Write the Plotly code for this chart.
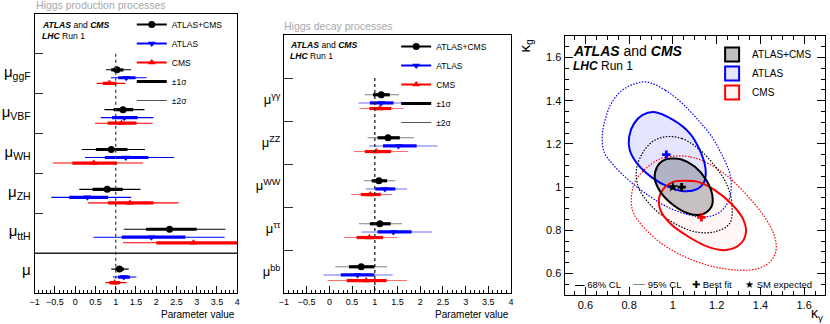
import plotly.graph_objects as go

# ---------------- data: production processes (value, lo1, hi1, lo2, hi2) ----------------
PROD_LABELS = ["μ<sub>ggF</sub>", "μ<sub>VBF</sub>", "μ<sub>WH</sub>",
               "μ<sub>ZH</sub>", "μ<sub>ttH</sub>", "μ"]
PROD_COMB = [
    (1.03, 0.89, 1.19, 0.76, 1.38),
    (1.18, 0.95, 1.43, 0.72, 1.71),
    (0.89, 0.51, 1.29, 0.16, 1.72),
    (0.79, 0.43, 1.17, 0.10, 1.61),
    (2.33, 1.75, 3.00, 1.20, 3.71),
    (1.09, 0.99, 1.20, 0.89, 1.32),
]
PROD_ATLAS = [
    (1.26, 1.06, 1.49, 0.88, 1.76),
    (1.21, 0.91, 1.54, 0.63, 1.93),
    (1.25, 0.73, 1.81, 0.24, 2.44),
    (0.30, -0.15, 0.81, -0.59, 1.38),
    (1.88, 1.15, 2.72, 0.45, 3.69),
    (1.20, 1.06, 1.35, 0.93, 1.51),
]
PROD_CMS = [
    (0.84, 0.68, 1.02, 0.53, 1.24),
    (1.14, 0.80, 1.51, 0.49, 1.91),
    (0.46, -0.07, 1.03, -0.55, 1.67),
    (1.35, 0.81, 1.93, 0.32, 2.55),
    (2.92, 2.00, 4.00, 1.18, 4.60),
    (0.97, 0.84, 1.11, 0.74, 1.27),
]

# ---------------- data: decay processes ----------------
DEC_LABELS = ["μ<sup>γγ</sup>", "μ<sup>ZZ</sup>", "μ<sup>WW</sup>",
              "μ<sup>ττ</sup>", "μ<sup>bb</sup>"]
DEC_COMB = [
    (1.14, 0.96, 1.33, 0.78, 1.53),
    (1.29, 1.06, 1.55, 0.84, 1.86),
    (1.09, 0.93, 1.27, 0.76, 1.45),
    (1.11, 0.89, 1.35, 0.65, 1.60),
    (0.70, 0.43, 0.99, 0.13, 1.27),
]
DEC_ATLAS = [
    (1.14, 0.89, 1.41, 0.64, 1.71),
    (1.52, 1.18, 1.92, 0.87, 2.38),
    (1.22, 1.01, 1.45, 0.80, 1.71),
    (1.41, 1.06, 1.81, 0.71, 2.26),
    (0.62, 0.25, 0.99, -0.13, 1.39),
]
DEC_CMS = [
    (1.11, 0.88, 1.36, 0.66, 1.63),
    (1.03, 0.78, 1.36, 0.54, 1.73),
    (0.90, 0.69, 1.13, 0.48, 1.38),
    (0.88, 0.60, 1.18, 0.32, 1.49),
    (0.81, 0.38, 1.26, -0.04, 1.71),
]
SM_VALUE = 1.0

# ---------------- data: kappa_gamma vs kappa_g contours ----------------
COMB68_X = [0.988, 1.040, 1.101, 1.153, 1.180, 1.176, 1.131, 1.071, 1.003, 0.943, 0.917, 0.928, 0.953, 0.988]
COMB68_Y = [1.132, 1.128, 1.094, 1.032, 0.963, 0.909, 0.873, 0.878, 0.916, 0.978, 1.040, 1.094, 1.121, 1.132]
COMB95_X = [0.965, 1.041, 1.116, 1.183, 1.244, 1.270, 1.259, 1.191, 1.101, 0.995, 0.905, 0.845, 0.833, 0.860, 0.905, 0.965]
COMB95_Y = [1.233, 1.225, 1.179, 1.109, 1.017, 0.920, 0.831, 0.793, 0.793, 0.839, 0.909, 0.993, 1.078, 1.155, 1.209, 1.233]
ATLAS68_X = [0.913, 1.003, 1.078, 1.123, 1.149, 1.143, 1.108, 1.048, 0.980, 0.905, 0.837, 0.803, 0.800, 0.822, 0.860, 0.913]
ATLAS68_Y = [1.348, 1.310, 1.248, 1.171, 1.086, 1.024, 0.989, 0.981, 1.001, 1.044, 1.109, 1.171, 1.233, 1.294, 1.333, 1.348]
ATLAS95_X = [0.883, 0.965, 1.040, 1.116, 1.180, 1.221, 1.255, 1.266, 1.262, 1.240, 1.200, 1.140, 1.060, 0.970,
             0.890, 0.800, 0.730, 0.687, 0.677, 0.690, 0.720, 0.770, 0.830, 0.883]
ATLAS95_Y = [1.487, 1.449, 1.390, 1.310, 1.230, 1.155, 1.080, 1.032, 0.960, 0.910, 0.875, 0.862, 0.875, 0.910,
             0.960, 1.030, 1.100, 1.160, 1.233, 1.310, 1.390, 1.450, 1.480, 1.487]
CMS68_X = [1.048, 1.116, 1.191, 1.266, 1.319, 1.334, 1.311, 1.244, 1.161, 1.071, 0.988, 0.943, 0.938, 0.965, 1.003, 1.048]
CMS68_Y = [1.029, 1.024, 0.986, 0.924, 0.855, 0.793, 0.739, 0.708, 0.723, 0.770, 0.831, 0.893, 0.955, 1.001, 1.024, 1.029]
CMS95_X = [1.000, 1.080, 1.160, 1.250, 1.340, 1.420, 1.465, 1.470, 1.440, 1.380, 1.300, 1.190, 1.070, 0.960,
           0.870, 0.820, 0.810, 0.830, 0.880, 0.940, 1.000]
CMS95_Y = [1.143, 1.140, 1.110, 1.050, 0.960, 0.860, 0.770, 0.700, 0.650, 0.620, 0.615, 0.630, 0.670, 0.730,
           0.810, 0.880, 0.950, 1.030, 1.090, 1.130, 1.143]
BEST_COMB = (1.04, 1.00)
BEST_ATLAS = (0.97, 1.15)
BEST_CMS = (1.13, 0.86)
SM_POINT = (1.0, 1.0)

FONT = "Liberation Sans, Arial, Helvetica, sans-serif"
BLUE = "#0000ff"
RED = "#ff0000"
DOTS = "1.5px,1.5px"

fig = go.Figure()


def add_forest(rows, offset, color, thin_color, symbol, xa, ya):
    ys = [i + 1 + offset for i in range(len(rows))]
    x1, y1, x2, y2 = [], [], [], []
    for (v, lo1, hi1, lo2, hi2), y in zip(rows, ys):
        x2 += [lo2, hi2, None]
        y2 += [y, y, None]
        x1 += [lo1, hi1, None]
        y1 += [y, y, None]
    fig.add_trace(go.Scatter(x=x2, y=y2, mode="lines", line=dict(color=thin_color, width=1.1),
                             xaxis=xa, yaxis=ya, showlegend=False, hoverinfo="skip"))
    fig.add_trace(go.Scatter(x=x1, y=y1, mode="lines", line=dict(color=color, width=3.2),
                             xaxis=xa, yaxis=ya, showlegend=False, hoverinfo="skip"))
    fig.add_trace(go.Scatter(x=[r[0] for r in rows], y=ys, mode="markers",
                             marker=dict(color=color, symbol=symbol, size=7),
                             xaxis=xa, yaxis=ya, showlegend=False))


def add_forest_legend(legend):
    items = [("ATLAS+CMS", "black", "circle"), ("ATLAS", BLUE, "triangle-down"),
             ("CMS", RED, "triangle-up")]
    for name, c, sym in items:
        fig.add_trace(go.Scatter(x=[None], y=[None], mode="lines+markers", name=name,
                                 line=dict(color=c, width=2), marker=dict(color=c, symbol=sym, size=7),
                                 legend=legend))
    fig.add_trace(go.Scatter(x=[None], y=[None], mode="lines", name="±1σ",
                             line=dict(color="black", width=3), legend=legend))
    fig.add_trace(go.Scatter(x=[None], y=[None], mode="lines", name="±2σ",
                             line=dict(color="#555", width=1), legend=legend))


# left panel: production
add_forest(PROD_COMB, 0.40, "black", "black", "circle", "x", "y")
add_forest(PROD_ATLAS, 0.60, BLUE, BLUE, "triangle-down", "x", "y")
add_forest(PROD_CMS, 0.74, RED, RED, "triangle-up", "x", "y")
fig.add_trace(go.Scatter(x=[SM_VALUE, SM_VALUE], y=[1, 7], mode="lines",
                         line=dict(color="#444", width=1.3, dash="dot"),
                         xaxis="x", yaxis="y", showlegend=False, hoverinfo="skip"))
add_forest_legend("legend")

# middle panel: decay
add_forest(DEC_COMB, 0.39, "black", "#808080", "circle", "x2", "y2")
add_forest(DEC_ATLAS, 0.58, BLUE, "#6f6fff", "triangle-down", "x2", "y2")
add_forest(DEC_CMS, 0.71, RED, "#ff6f6f", "triangle-up", "x2", "y2")
fig.add_trace(go.Scatter(x=[SM_VALUE, SM_VALUE], y=[1, 6], mode="lines",
                         line=dict(color="#222", width=1.3, dash="dot"),
                         xaxis="x2", yaxis="y2", showlegend=False, hoverinfo="skip"))
add_forest_legend("legend2")

# right panel: contours - fills first, then outlines
for xs, ys, fc in [(CMS68_X, CMS68_Y, "rgba(255,0,0,0.035)"),
                   (ATLAS68_X, ATLAS68_Y, "rgba(0,0,255,0.10)"),
                   (COMB68_X, COMB68_Y, "rgba(0,0,0,0.22)")]:
    fig.add_trace(go.Scatter(x=xs, y=ys, mode="lines", fill="toself", fillcolor=fc,
                             line=dict(width=0, shape="spline", smoothing=1.0),
                             xaxis="x3", yaxis="y3", showlegend=False, hoverinfo="skip"))
for xs, ys, c, dash, w in [(ATLAS95_X, ATLAS95_Y, BLUE, DOTS, 1.2),
                           (CMS95_X, CMS95_Y, RED, DOTS, 1.2),
                           (COMB95_X, COMB95_Y, "black", DOTS, 1.2),
                           (ATLAS68_X, ATLAS68_Y, BLUE, "solid", 2),
                           (CMS68_X, CMS68_Y, RED, "solid", 2),
                           (COMB68_X, COMB68_Y, "black", "solid", 2)]:
    fig.add_trace(go.Scatter(x=xs, y=ys, mode="lines",
                             line=dict(color=c, width=w, dash=dash, shape="spline", smoothing=1.0),
                             xaxis="x3", yaxis="y3", showlegend=False, hoverinfo="skip"))
for pt, c in [(BEST_ATLAS, BLUE), (BEST_CMS, RED), (BEST_COMB, "black")]:
    fig.add_trace(go.Scatter(x=[pt[0]], y=[pt[1]], mode="markers",
                             marker=dict(symbol="cross", size=7, color=c),
                             xaxis="x3", yaxis="y3", showlegend=False))
fig.add_trace(go.Scatter(x=[SM_POINT[0]], y=[SM_POINT[1]], mode="markers",
                         marker=dict(symbol="star", size=8, color="black"),
                         xaxis="x3", yaxis="y3", showlegend=False))
for name, fc, lc in [("ATLAS+CMS", "#c0c0c0", "black"), ("ATLAS", "#e6e6ff", BLUE),
                     ("CMS", "#fff6f6", RED)]:
    fig.add_trace(go.Scatter(x=[None], y=[None], mode="markers", name=name,
                             marker=dict(symbol="square", size=14, color=fc, line=dict(color=lc, width=2)),
                             legend="legend3"))

# ---------------- axes ----------------
W, H = 830.0, 324.0


def dom_x(a, b):
    return [a / W, b / W]


def dom_y(top, bottom):
    return [1 - bottom / H, 1 - top / H]


forest_x = dict(range=[-1, 4], dtick=0.5, tick0=0, ticks="inside", ticklen=7, tickcolor="black",
                minor=dict(dtick=0.1, ticks="inside", ticklen=3.5, tickcolor="black"),
                showline=True, mirror=True, linecolor="black", linewidth=1,
                showgrid=False, zeroline=False, tickfont=dict(size=9))

fig.update_layout(
    width=830, height=324, margin=dict(l=0, r=0, t=0, b=0),
    paper_bgcolor="white", plot_bgcolor="white",
    font=dict(family=FONT, color="black"),
    xaxis=dict(domain=dom_x(30, 234.5), anchor="y", **forest_x),
    yaxis=dict(domain=dom_y(14, 293), anchor="x", range=[7, 0],
               tickvals=[i + 1.45 for i in range(5)] + [6.42], ticktext=PROD_LABELS,
               ticks="", tickfont=dict(size=15),
               minor=dict(tickvals=[1, 2, 3, 4, 5], ticks="inside", ticklen=8, tickcolor="#333"),
               showline=True, mirror=True, linecolor="black", linewidth=1,
               showgrid=False, zeroline=False),
    xaxis2=dict(domain=dom_x(281.7, 511), anchor="y2", **forest_x),
    yaxis2=dict(domain=dom_y(35, 293), anchor="x2", range=[6, 0],
                tickvals=[i + 1.5 for i in range(5)], ticktext=DEC_LABELS,
                ticks="", tickfont=dict(size=13),
                minor=dict(tickvals=[1, 2, 3, 4, 5], ticks="inside", ticklen=9, tickcolor="#333"),
                showline=True, mirror=True, linecolor="black", linewidth=1,
                showgrid=False, zeroline=False),
    xaxis3=dict(domain=dom_x(565, 828), anchor="y3", range=[0.505, 1.695], dtick=0.2, tick0=0,
                ticks="inside", ticklen=8, tickcolor="black",
                minor=dict(dtick=0.05, ticks="inside", ticklen=4, tickcolor="black"),
                showline=True, mirror="allticks", linecolor="black", linewidth=1,
                showgrid=False, zeroline=False, tickfont=dict(size=11)),
    yaxis3=dict(domain=dom_y(36, 295), anchor="x3", range=[0.5, 1.7], dtick=0.2, tick0=0,
                ticks="inside", ticklen=8, tickcolor="black",
                minor=dict(dtick=0.05, ticks="inside", ticklen=4, tickcolor="black"),
                showline=True, mirror="allticks", linecolor="black", linewidth=1,
                showgrid=False, zeroline=False, tickfont=dict(size=11)),
    legend=dict(x=128 / W, y=1 - 10 / H, xanchor="left", yanchor="top", bgcolor="rgba(0,0,0,0)",
                font=dict(size=8.5), tracegroupgap=0),
    legend2=dict(x=395 / W, y=1 - 32 / H, xanchor="left", yanchor="top", bgcolor="rgba(0,0,0,0)",
                 font=dict(size=8.5), tracegroupgap=0),
    legend3=dict(x=714 / W, y=1 - 40 / H, xanchor="left", yanchor="top", bgcolor="rgba(0,0,0,0)",
                 font=dict(size=10), tracegroupgap=0),
)

fig.add_shape(type="line", xref="x domain", yref="y", x0=0, x1=1, y0=6, y1=6,
              line=dict(color="#222", width=1.5))

ann = []


def note(text, x, y, size, xanchor="left", color="black", angle=0):
    ann.append(dict(text=text, x=x / W, y=1 - y / H, xref="paper", yref="paper",
                    xanchor=xanchor, yanchor="middle", showarrow=False, textangle=angle,
                    font=dict(size=size, color=color, family=FONT)))


note("Higgs production processes", 29, 5, 10.5, color="#a8a8a8")
note("Higgs decay processes", 280, 26, 10.5, color="#a8a8a8")
note("<b><i>ATLAS</i></b> and <b><i>CMS</i></b>", 35, 25, 8.6)
note("<b><i>LHC</i></b> Run 1", 35, 36, 8.6)
note("<b><i>ATLAS</i></b> and <b><i>CMS</i></b>", 286, 45, 8.6)
note("<b><i>LHC</i></b> Run 1", 286, 56, 8.6)
note("<b><i>ATLAS</i></b> and <b><i>CMS</i></b>", 572, 51, 14)
note("<b><i>LHC</i></b> Run 1", 572, 66, 12)
note("Parameter value", 234.5, 314, 10, xanchor="right")
note("Parameter value", 511, 314, 10, xanchor="right")
note("κ<sub>γ</sub>", 828, 314, 14, xanchor="right")
note("κ<sub>g</sub>", 514, 46, 15, xanchor="left", angle=-90)
note("<b>—</b> 68% CL", 574, 284, 9.5)
note("┈┈ 95% CL", 632, 284, 9.5)
note("✚ Best fit", 692, 284, 9.5)
note("★ SM expected", 745, 284, 9.5)
fig.update_layout(annotations=ann)

# the page body has a default 8px margin; remove it so the figure sits at the window origin
fig.write_html("out.html", config={"displayModeBar": False},
               post_script="document.body.style.margin='0px';")
